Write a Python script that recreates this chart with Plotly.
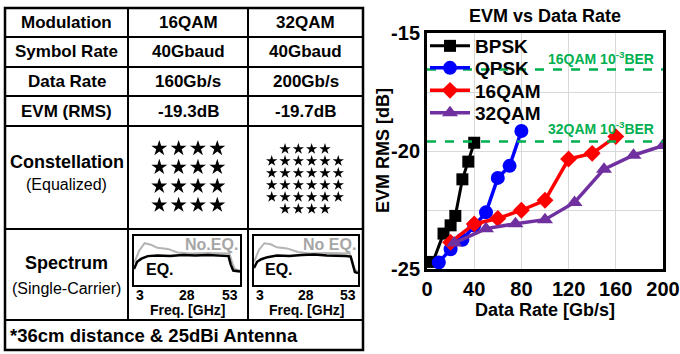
import plotly.graph_objects as go

# ---------------- data ----------------
bpsk_x = [5, 14, 20, 24, 30, 35, 40]
bpsk_y = [-24.7, -23.5, -23.15, -22.75, -21.2, -20.45, -19.65]
qpsk_x = [10, 20, 30, 40, 50, 60, 70, 80]
qpsk_y = [-24.72, -24.16, -23.76, -23.16, -22.6, -21.14, -20.63, -19.15]
qam16_x = [20, 40, 60, 80, 100, 120, 140, 160]
qam16_y = [-23.87, -23.09, -22.86, -22.51, -22.09, -20.34, -20.1, -19.39]
qam32_x = [23, 50, 75, 100, 125, 150, 175, 200]
qam32_y = [-23.9, -23.29, -23.08, -22.91, -22.18, -20.77, -20.18, -19.77]
thr_x = [0, 200]
thr16_y = -16.55
thr32_y = -19.6

x_ticks = [0, 40, 80, 120, 160, 200]
y_ticks = [-25, -22.5, -20, -17.5, -15]
y_ticktext = ["-25", " ", "-20", " ", "-15"]

table_rows = ["Modulation", "Symbol Rate", "Data Rate", "EVM (RMS)"]
table_16 = ["16QAM", "40Gbaud", "160Gb/s", "-19.3dB"]
table_32 = ["32QAM", "40Gbaud", "200Gb/s", "-19.7dB"]
footnote = "*36cm distance & 25dBi Antenna"

# constellations (ideal symbol positions)
c16_i = [-3, -1, 1, 3] * 4
c16_q = [3] * 4 + [1] * 4 + [-1] * 4 + [-3] * 4
c32_i = ([-3, -1, 1, 3] + [-5, -3, -1, 1, 3, 5] * 4 + [-3, -1, 1, 3])
c32_q = ([5] * 4 + [3] * 6 + [1] * 6 + [-1] * 6 + [-3] * 6 + [-5] * 4)

# spectra (arbitrary linear units)
sp1_f = [3, 4.5, 6.5, 9.5, 14, 20, 26, 32, 38, 43, 46, 47.6, 48.6, 49.8, 53]
sp1_eq = [0.36, 0.5, 0.56, 0.61, 0.62, 0.61, 0.63, 0.62, 0.63, 0.62, 0.62, 0.61, 0.45, 0.33, 0.31]
sp1_noeq_f = [3, 5.5, 8, 11, 14, 19, 23.5, 30, 38, 45, 48, 49.2, 50.5, 53]
sp1_noeq = [0.47, 0.72, 0.86, 0.83, 0.77, 0.75, 0.68, 0.66, 0.67, 0.66, 0.66, 0.5, 0.36, 0.33]
sp2_f = [3, 4.5, 6.5, 9.5, 14, 20, 26, 32, 38, 43, 47, 49.5, 50.5, 51.5, 53]
sp2_eq = [0.38, 0.5, 0.55, 0.59, 0.62, 0.61, 0.63, 0.64, 0.62, 0.62, 0.61, 0.6, 0.42, 0.3, 0.28]
sp2_noeq_f = [3, 5.5, 8, 11, 14, 19, 24, 30, 38, 45, 49, 50.3, 51.5, 53]
sp2_noeq = [0.5, 0.74, 0.86, 0.84, 0.78, 0.76, 0.69, 0.66, 0.67, 0.67, 0.66, 0.5, 0.35, 0.3]

W, H = 680, 354
FONT = "Liberation Sans"


def px(x):
    return x / W


def py(y):
    return 1 - y / H


fig = go.Figure()

# ---------------- main chart ----------------
series = [
    ("BPSK", bpsk_x, bpsk_y, "black", "square", 12, 3, "legend", 46),
    ("QPSK", qpsk_x, qpsk_y, "#0000ff", "circle", 14, 3.5, "legend2", 68),
    ("16QAM", qam16_x, qam16_y, "#ff0000", "diamond", 13, 3.5, "legend3", 90.5),
    ("32QAM", qam32_x, qam32_y, "#7030a0", "triangle-up", 14, 3.5, "legend4", 113),
]
legend_font = dict(family=FONT, size=19, color="black", weight="bold")
legends = {}
for name, xs, ys, col, sym, ms, lw, lg, ly in series:
    fig.add_trace(go.Scatter(
        x=xs, y=ys, name=name, mode="lines+markers", legend=lg,
        line=dict(color=col, width=lw),
        marker=dict(symbol=sym, size=ms, color=col),
        xaxis="x", yaxis="y"))
    legends[lg] = dict(x=px(425), y=py(ly), xanchor="left", yanchor="middle",
                       bgcolor="rgba(0,0,0,0)", borderwidth=0, font=legend_font,
                       itemwidth=40, tracegroupgap=0)

for yv in (thr16_y, thr32_y):
    fig.add_trace(go.Scatter(
        x=thr_x, y=[yv, yv], mode="lines", showlegend=False,
        line=dict(color="#00b050", width=2.5, dash="dash"),
        xaxis="x", yaxis="y", hoverinfo="skip"))

# ---------------- constellations ----------------
fig.add_trace(go.Scatter(x=c16_i, y=c16_q, mode="markers", showlegend=False,
                         marker=dict(symbol="star", size=12, color="black"),
                         xaxis="x2", yaxis="y2"))
fig.add_trace(go.Scatter(x=c32_i, y=c32_q, mode="markers", showlegend=False,
                         marker=dict(symbol="star", size=8.5, color="black"),
                         xaxis="x3", yaxis="y3"))

# ---------------- spectra ----------------
for (fn, vn, fe, ve, xa, ya) in [
    (sp1_noeq_f, sp1_noeq, sp1_f, sp1_eq, "x4", "y4"),
    (sp2_noeq_f, sp2_noeq, sp2_f, sp2_eq, "x5", "y5"),
]:
    fig.add_trace(go.Scatter(x=fn, y=vn, mode="lines", showlegend=False,
                             line=dict(color="#b4b4b4", width=2),
                             xaxis=xa, yaxis=ya))
    fig.add_trace(go.Scatter(x=fe, y=ve, mode="lines", showlegend=False,
                             line=dict(color="black", width=2.5),
                             xaxis=xa, yaxis=ya))

bold = dict(family=FONT, color="black", weight="bold")

hidden = dict(visible=False, fixedrange=True, automargin=False)
box_ax = dict(showgrid=False, zeroline=False, showticklabels=False, ticks="",
              showline=True, mirror=True, linecolor="black", linewidth=2,
              fixedrange=True, automargin=False)

fig.update_layout(
    width=W, height=H, autosize=False,
    margin=dict(l=0, r=0, t=0, b=0, pad=0, autoexpand=False),
    paper_bgcolor="white", plot_bgcolor="white",
    font=dict(family=FONT, color="black"),
    showlegend=True,
    xaxis=dict(domain=[px(427), px(663)], range=[0, 200], tickvals=x_ticks,
               showgrid=True, gridcolor="#d9d9d9", gridwidth=1, zeroline=False,
               showline=True, mirror=True, linecolor="black", linewidth=3,
               ticks="", tickfont=dict(size=20, **bold), anchor="y", automargin=False),
    yaxis=dict(domain=[py(269), py(33)], range=[-25, -15], tickvals=y_ticks,
               ticktext=y_ticktext,
               showgrid=True, gridcolor="#d9d9d9", gridwidth=1, zeroline=False,
               showline=True, mirror=True, linecolor="black", linewidth=3,
               ticks="", tickfont=dict(size=20, **bold), anchor="x", automargin=False),
    xaxis2=dict(domain=[px(144.8), px(231.8)], range=[-4.5, 4.5], anchor="y2", **hidden),
    yaxis2=dict(domain=[py(219.2), py(134.2)], range=[-4.5, 4.5], anchor="x2", **hidden),
    xaxis3=dict(domain=[px(258.4), px(351.6)], range=[-7, 7], anchor="y3", **hidden),
    yaxis3=dict(domain=[py(221), py(137)], range=[-7, 7], anchor="x3", **hidden),
    xaxis4=dict(domain=[px(134), px(240)], range=[3, 53], anchor="y4", **box_ax),
    yaxis4=dict(domain=[py(285), py(236)], range=[0.05, 1.0], anchor="x4", **box_ax),
    xaxis5=dict(domain=[px(254), px(358)], range=[3, 53], anchor="y5", **box_ax),
    yaxis5=dict(domain=[py(285), py(236)], range=[0.05, 1.0], anchor="x5", **box_ax),
    **legends,
)

ann = []


def text(x, y, t, size, weight="bold", color="black", xanchor="center", xref="paper", yref="paper", angle=0):
    ann.append(dict(x=x, y=y, xref=xref, yref=yref, text=t, showarrow=False,
                    xanchor=xanchor, yanchor="middle", textangle=angle,
                    font=dict(family=FONT, size=size, color=color, weight=weight)))


# main chart texts
text(px(545), py(16), "EVM vs Data Rate", 18)
text(px(545), py(310), "Data Rate [Gb/s]", 18)
text(px(383), py(151), "EVM RMS [dB]", 18, angle=-90)
text(px(656), py(58), "16QAM 10<sup>-3</sup>BER", 14, color="#00b050", xanchor="right")
text(px(656), py(128), "32QAM 10<sup>-3</sup>BER", 14, color="#00b050", xanchor="right")

# table
col_c = [66.5, 188, 305.5]
row_c = [22.5, 52, 81.5, 111]
for i in range(4):
    text(px(col_c[0]), py(row_c[i]), table_rows[i], 17)
    text(px(col_c[1]), py(row_c[i]), table_16[i], 17)
    text(px(col_c[2]), py(row_c[i]), table_32[i], 17)
text(px(66.5), py(162), "Constellation", 18)
text(px(66.5), py(184), "(Equalized)", 16, weight="normal")
text(px(66.5), py(263), "Spectrum", 18)
text(px(66.5), py(288), "(Single-Carrier)", 16, weight="normal")
text(px(8), py(335), footnote, 18.5, xanchor="left")

# spectrum labels
for xa, ya, cx, noeq in [("x4", "y4", 187, "No.EQ."), ("x5", "y5", 306, "No EQ.")]:
    for f, anc in [(3, "left"), (28, "center"), (53, "right")]:
        ann.append(dict(x=f, y=py(295), xref=xa, yref="paper", text=str(f), showarrow=False,
                        xanchor=anc, yanchor="middle",
                        font=dict(family=FONT, size=14, color="black", weight="bold")))
    text(px(cx), py(309.5), "Freq. [GHz]", 14)
    ann.append(dict(x=53, y=0.84, xref=xa, yref=ya, text=noeq, showarrow=False,
                    xanchor="right", yanchor="middle",
                    font=dict(family=FONT, size=16, color="#a6a6a6", weight="bold")))
    ann.append(dict(x=7.5, y=0.35, xref=xa, yref=ya, text="EQ.", showarrow=False,
                    xanchor="left", yanchor="middle",
                    font=dict(family=FONT, size=16, color="black", weight="bold")))

fig.update_layout(annotations=ann)

# table lines
shapes = []
L, R, T, B = 5, 363, 8, 350
shapes.append(dict(type="rect", xref="paper", yref="paper", x0=px(L), x1=px(R), y0=py(B), y1=py(T),
                   line=dict(color="black", width=2.5), fillcolor="rgba(0,0,0,0)", layer="below"))
for yy in [37, 67, 96, 126, 229, 320]:
    shapes.append(dict(type="line", xref="paper", yref="paper", x0=px(L), x1=px(R), y0=py(yy), y1=py(yy),
                       line=dict(color="black", width=2)))
for xx in [128, 248]:
    shapes.append(dict(type="line", xref="paper", yref="paper", x0=px(xx), x1=px(xx), y0=py(320), y1=py(T),
                       line=dict(color="black", width=2)))
fig.update_layout(shapes=shapes)

fig.write_html("out.html")
